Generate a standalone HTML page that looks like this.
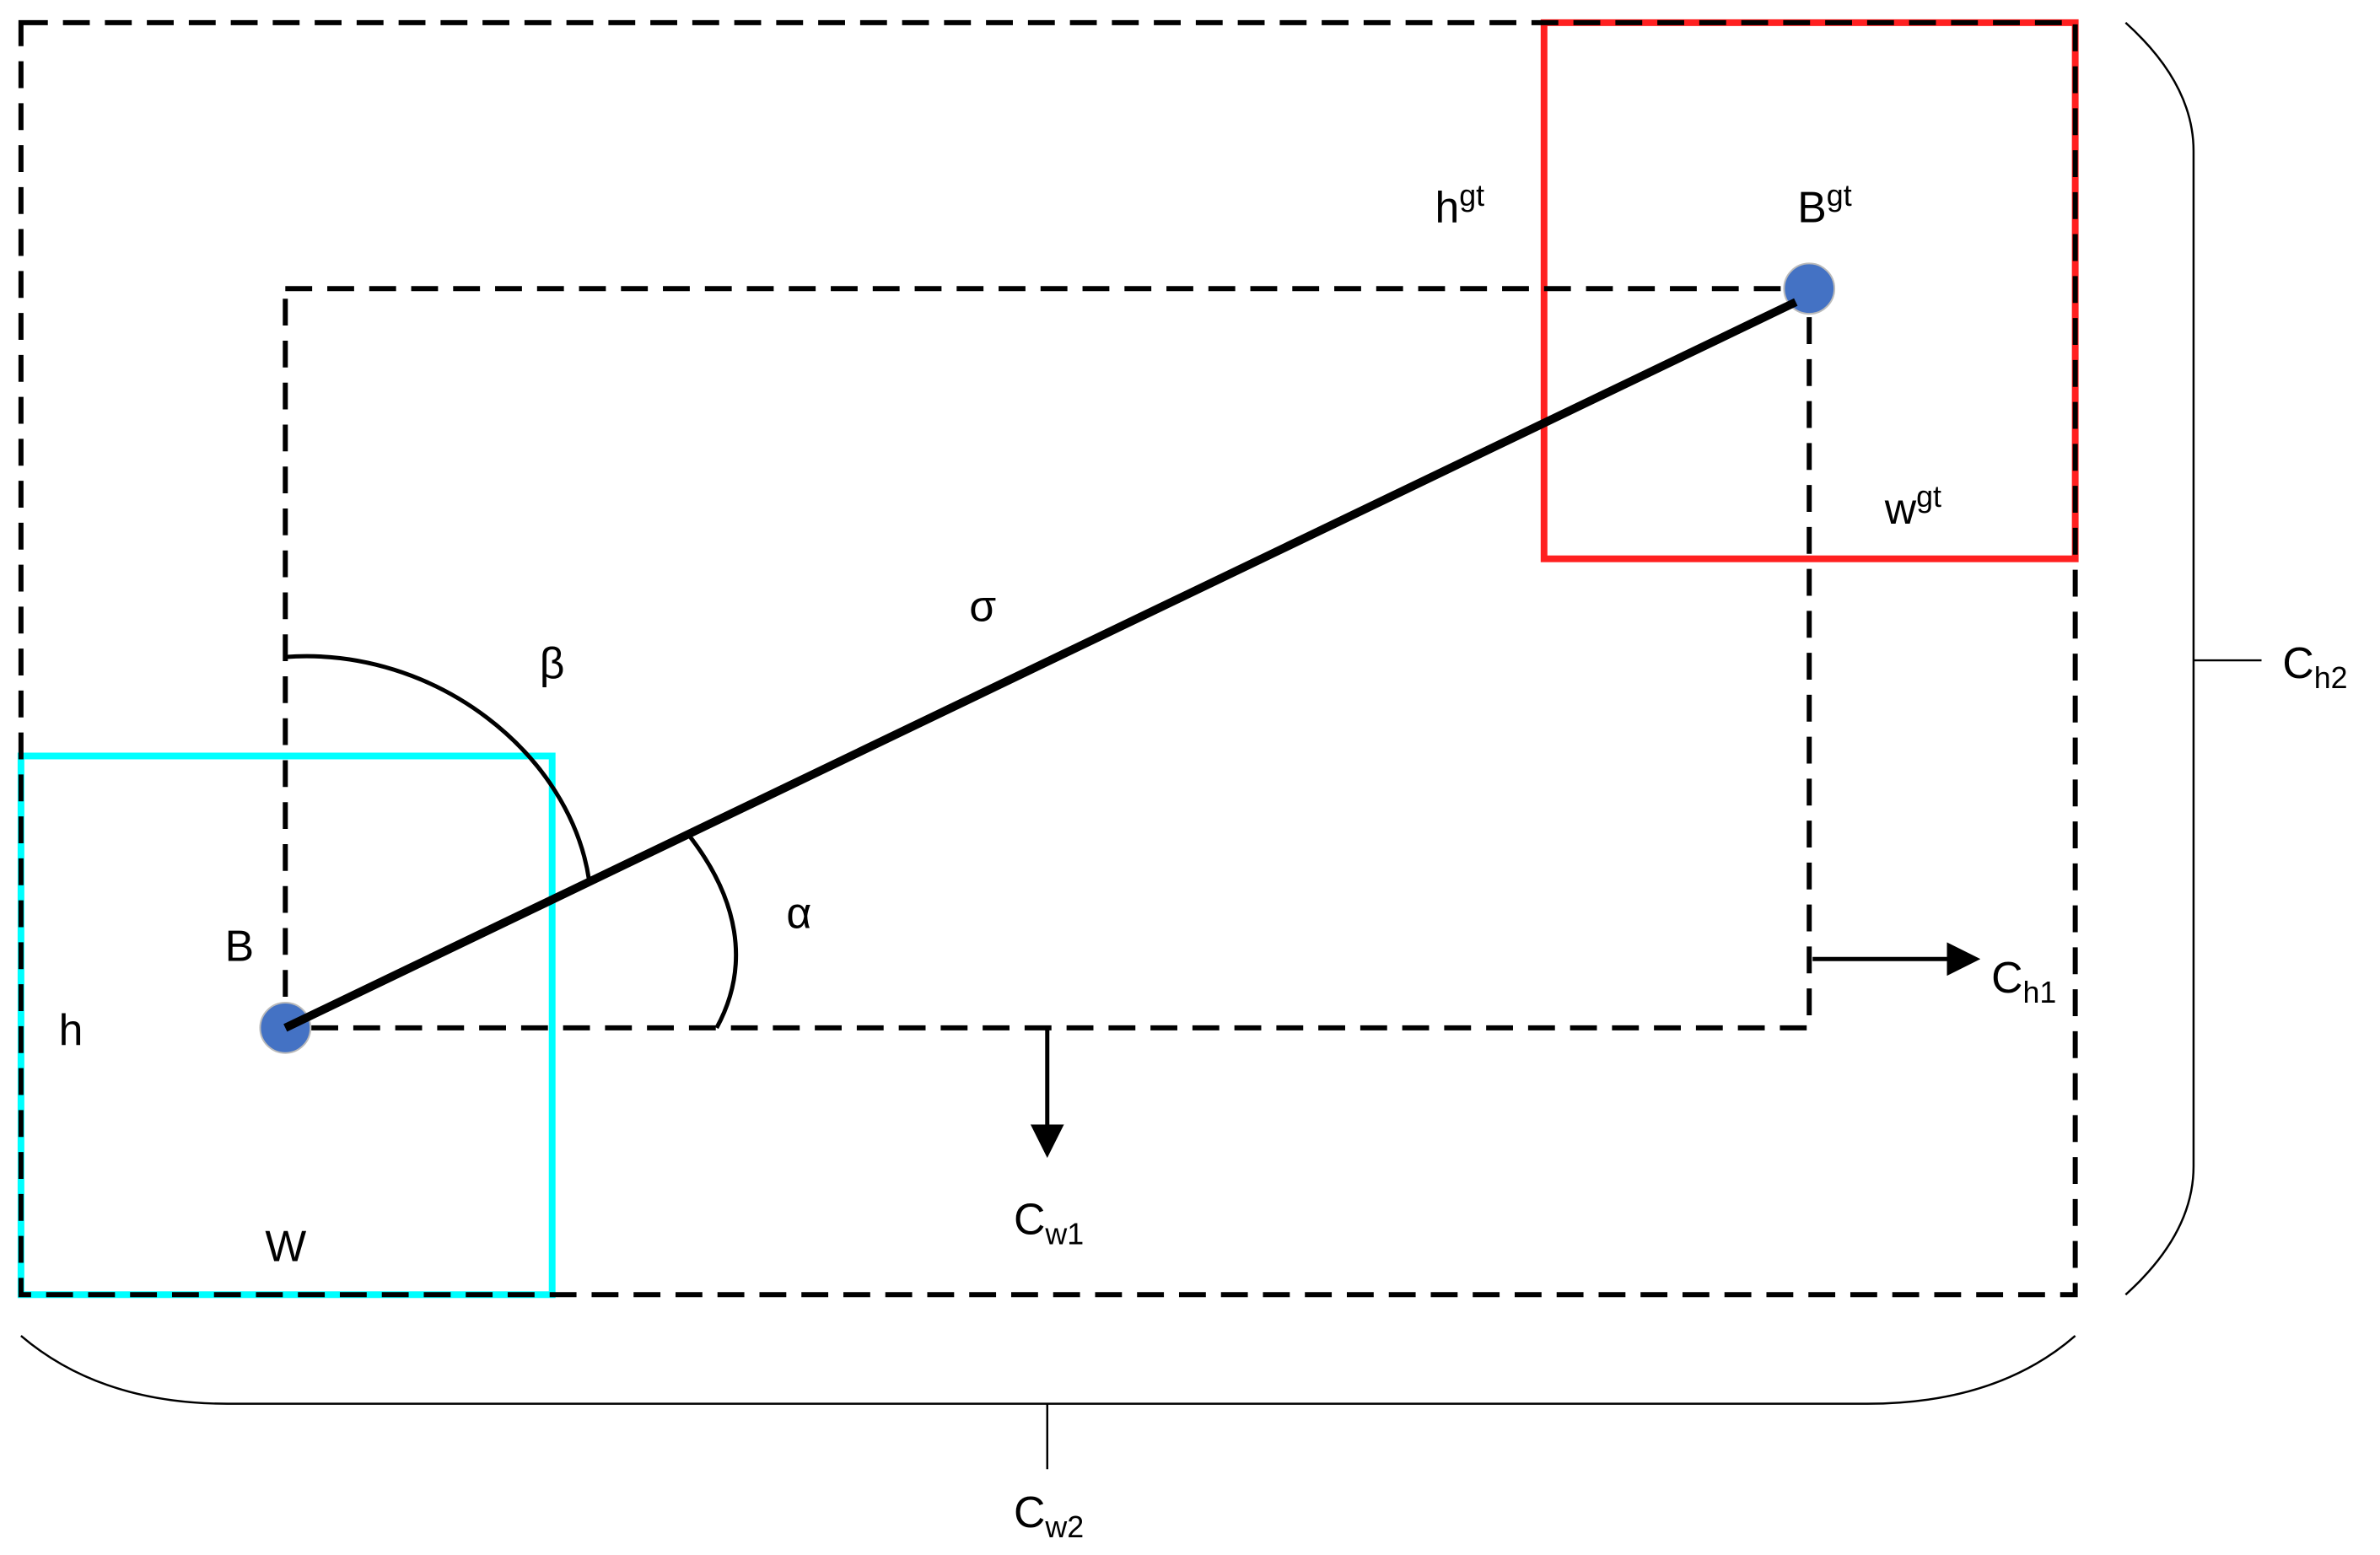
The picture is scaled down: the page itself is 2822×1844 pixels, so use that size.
<!DOCTYPE html>
<html><head><meta charset="utf-8"><style>
html,body{margin:0;padding:0;background:#fff;}
svg{display:block;}
text{font-family:"Liberation Sans",sans-serif;font-size:52px;fill:#000;}
.s{font-size:36px;}
</style></head><body>
<svg width="2822" height="1844" viewBox="0 0 2822 1844" xmlns="http://www.w3.org/2000/svg">
<defs>
<marker id="ah" markerWidth="8" markerHeight="8" refX="6" refY="4" orient="auto" markerUnits="strokeWidth">
<path d="M0,0 L8,4 L0,8 z" fill="#000"/></marker>
</defs>
<g transform="scale(0.995)">
<rect x="1840" y="27" width="633" height="639" fill="none" stroke="#ff2020" stroke-width="8"/>
<rect x="25" y="901" width="633" height="642" fill="none" stroke="#00ffff" stroke-width="8"/>
<rect x="25" y="27" width="2448" height="1516" fill="none" stroke="#000" stroke-width="6" stroke-dasharray="32,18"/>
<rect x="340" y="344" width="1816" height="881" fill="none" stroke="#000" stroke-width="6" stroke-dasharray="32,18"/>
<circle cx="340" cy="1225" r="30" fill="#4472c4" stroke="#bbb" stroke-width="2"/>
<circle cx="2156" cy="344" r="30" fill="#4472c4" stroke="#bbb" stroke-width="2"/>
<line x1="340" y1="1225" x2="2140" y2="360" stroke="#000" stroke-width="10"/>
<path d="M340,783 C520,770 680,900 702,1049" fill="none" stroke="#000" stroke-width="5"/>
<path d="M819,993 C880,1070 895,1150 854,1225" fill="none" stroke="#000" stroke-width="5"/>
<line x1="1248" y1="1225" x2="1248" y2="1370" stroke="#000" stroke-width="5" marker-end="url(#ah)"/>
<line x1="2160" y1="1143" x2="2350" y2="1143" stroke="#000" stroke-width="5" marker-end="url(#ah)"/>
<path d="M2533,27 Q2614,100 2614,180 L2614,1390 Q2614,1470 2533,1543" fill="none" stroke="#000" stroke-width="2.5"/>
<line x1="2614" y1="787" x2="2695" y2="787" stroke="#000" stroke-width="2.5"/>
<path d="M25,1592 Q120,1673 271,1673 L2225,1673 Q2380,1673 2473,1592" fill="none" stroke="#000" stroke-width="2.5"/>
<line x1="1248" y1="1673" x2="1248" y2="1751" stroke="#000" stroke-width="2.5"/>
<text x="1710" y="265">h<tspan class="s" dy="-20">gt</tspan></text>
<text x="2142" y="265">B<tspan class="s" dy="-20">gt</tspan></text>
<text x="2246" y="624">w<tspan class="s" dy="-20">gt</tspan></text>
<text x="1155" y="740">σ</text>
<text x="643" y="808">β</text>
<text x="937" y="1106">α</text>
<text x="268" y="1145">B</text>
<text x="70" y="1245">h</text>
<text x="316" y="1503">W</text>
<text x="1208" y="1471">C<tspan class="s" dy="12">w1</tspan></text>
<text x="2373" y="1183">C<tspan class="s" dy="12">h1</tspan></text>
<text x="2720" y="808">C<tspan class="s" dy="12">h2</tspan></text>
<text x="1208" y="1820">C<tspan class="s" dy="12">w2</tspan></text>
</g>
</svg>
</body></html>
